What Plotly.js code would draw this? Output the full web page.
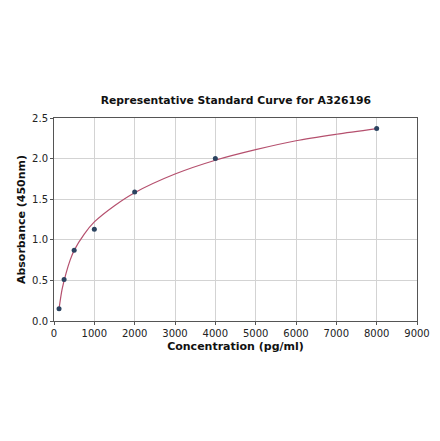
<!DOCTYPE html>
<html>
<head>
<meta charset="utf-8">
<script src="https://cdn.plot.ly/plotly-3.0.1.min.js"></script>
<style>
  html, body { margin: 0; padding: 0; background: #fff; }
  #chart { width: 440px; height: 441px; }
</style>
</head>
<body>
<div id="chart"></div>
<script>
// 標準点(読み取り値)
const standardConc = [125, 250, 500, 1000, 2000, 4000, 8000]
const standardAbs = [0.15, 0.51, 0.87, 1.13, 1.59, 2.0, 2.37]

// フィット曲線(図から読み取った点)
const curveConc = [125, 200, 300, 400, 500, 750, 1000, 1500, 2000, 3000, 4000, 5000, 6000, 7000, 8000]
const curveAbs = [0.15, 0.39, 0.59, 0.75, 0.87, 1.07, 1.22, 1.42, 1.58, 1.81, 1.98, 2.11, 2.22, 2.30, 2.37]

const font = "'DejaVu Sans', sans-serif"

const traces = [
  {
    x: curveConc,
    y: curveAbs,
    type: "scatter",
    mode: "lines",
    line: { color: "#b5506e", width: 1.2, shape: "spline", smoothing: 0.8 },
    hoverinfo: "skip"
  },
  {
    x: standardConc,
    y: standardAbs,
    type: "scatter",
    mode: "markers",
    marker: { color: "#2b4360", size: 5 }
  }
]

const axisCommon = {
  showline: true,
  mirror: true,
  linecolor: "#555",
  linewidth: 1,
  ticks: "outside",
  ticklen: 3,
  tickcolor: "#555",
  showgrid: true,
  gridcolor: "#d3d3d3",
  gridwidth: 1,
  zeroline: false,
  tickfont: { family: font, size: 10, color: "#222" }
}

const layout = {
  width: 440,
  height: 441,
  paper_bgcolor: "#fff",
  plot_bgcolor: "#fff",
  showlegend: false,
  margin: { l: 54, r: 23, t: 118, b: 120 },
  title: {
    text: "<b>Representative Standard Curve for A326196</b>",
    font: { family: font, size: 10.8, color: "#111" },
    x: 0.536, xanchor: "center",
    y: 1 - 100 / 441, yanchor: "middle"
  },
  xaxis: {
    ...axisCommon,
    range: [0, 9000],
    dtick: 1000,
    tick0: 0,
    title: { text: "<b>Concentration (pg/ml)</b>", font: { family: font, size: 11, color: "#111" }, standoff: 4 }
  },
  yaxis: {
    ...axisCommon,
    range: [0, 2.5],
    dtick: 0.5,
    tick0: 0,
    tickformat: ".1f",
    title: { text: "<b>Absorbance (450nm)</b>", font: { family: font, size: 11, color: "#111" }, standoff: 4 }
  }
}

Plotly.newPlot("chart", traces, layout, { displayModeBar: false, staticPlot: true })
</script>
</body>
</html>
